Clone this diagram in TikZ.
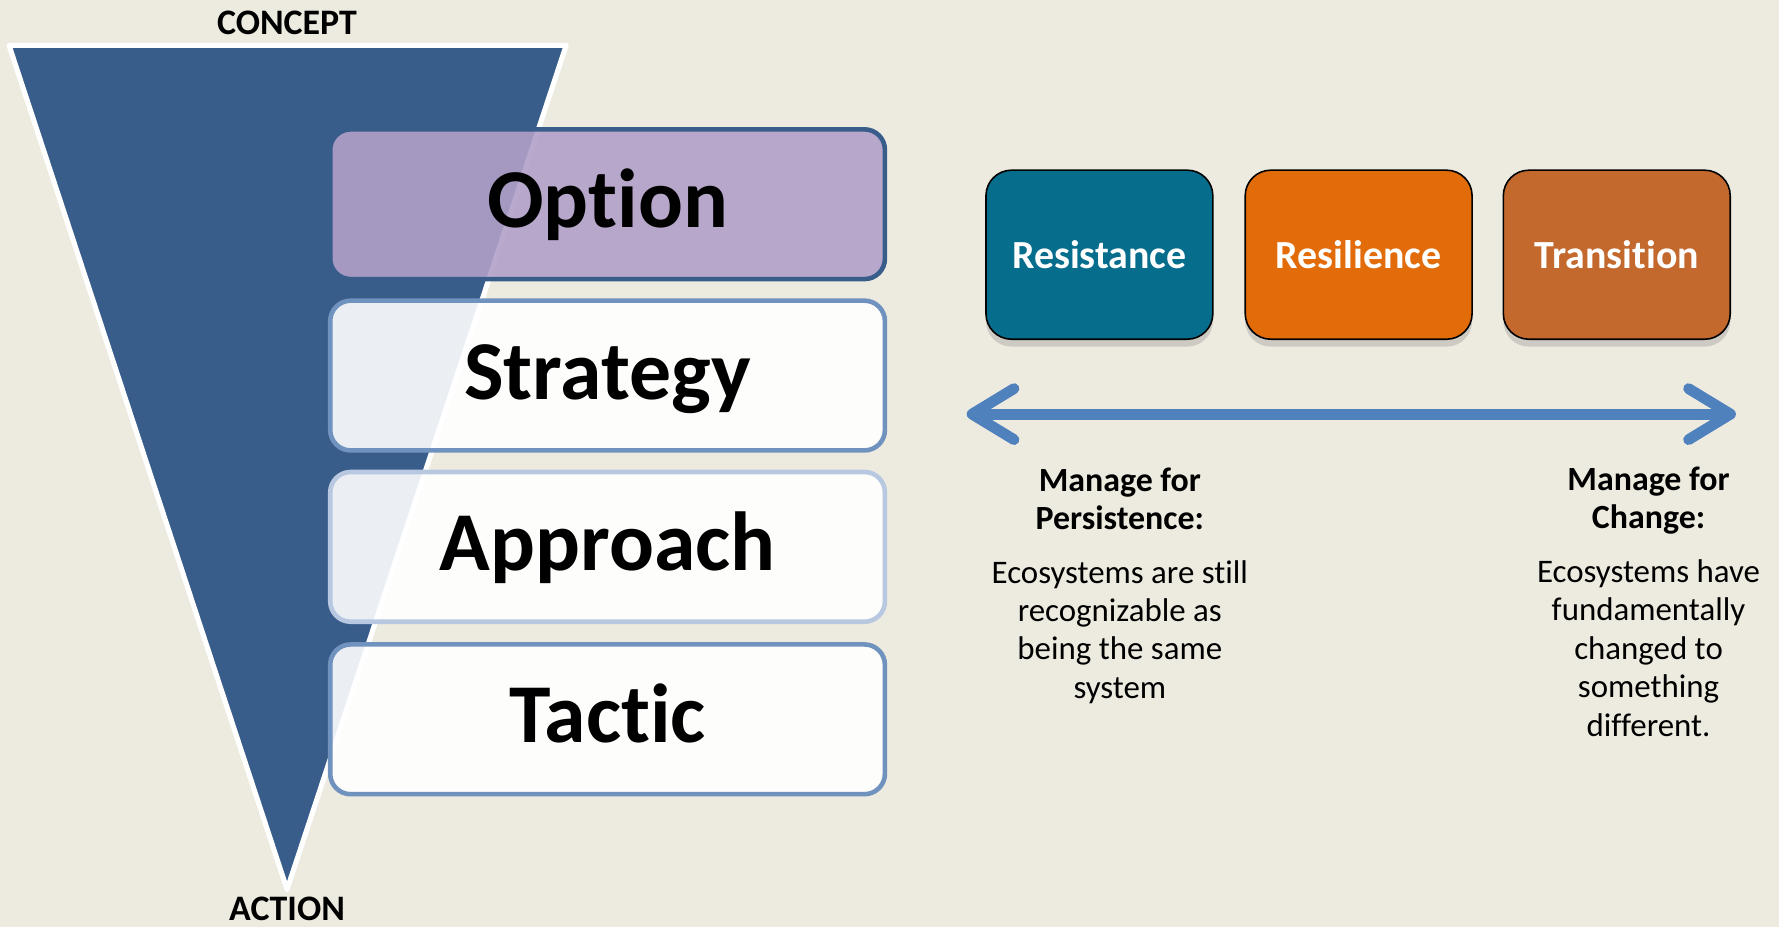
\documentclass[tikz,border=0pt]{standalone}
\usepackage{fontspec}
\setmainfont{Carlito}[Ligatures=NoCommon]
\usetikzlibrary{arrows.meta,shadows}

\definecolor{bgbeige}{RGB}{237,235,224}
\definecolor{funnelblue}{RGB}{56,93,138}
\definecolor{optpurple}{RGB}{178,160,200}
\definecolor{edgemid}{RGB}{112,146,190}
\definecolor{edgelight}{RGB}{185,200,225}
\definecolor{resistteal}{RGB}{6,110,140}
\definecolor{resilorange}{RGB}{227,108,10}
\definecolor{transbrown}{RGB}{196,105,45}
\definecolor{arrowblue}{RGB}{79,129,189}

\begin{document}
\begin{tikzpicture}[x=0.02cm, y=-0.02cm,
    % Box styles (levels on the left, scenarios on the right)
    level/.style={draw=#1, line width=2.3pt, rounded corners=3.6mm, fill=white, fill opacity=0.9, text opacity=1, minimum width=9.78cm, minimum height=2.64cm, inner sep=0pt, text height=27pt, text depth=3.4pt, font=\bfseries\fontsize{42}{50}\selectfont},
    scen/.style={fill=#1, draw=black, line width=0.8pt, text=white, rounded corners=4.5mm, minimum width=4cm, minimum height=2.98cm, inner sep=0pt, font=\bfseries\fontsize{20}{24}\selectfont, drop shadow={shadow xshift=0pt, shadow yshift=-1.3mm, opacity=0.3}},
    endlabel/.style={font=\bfseries\fontsize{18}{22}\selectfont, inner sep=0pt},
    head/.style={align=center, font=\bfseries\fontsize{17}{19}\selectfont},
    body/.style={align=center, font=\fontsize{16.5}{19.3}\selectfont},
    funnel/.style={fill=funnelblue, draw=white, line width=0.09cm, line join=round},
    scalearrow/.style={draw=arrowblue, line width=0.19cm, line cap=round, {Straight Barb[length=0.74cm, width=0.9cm, line cap=round, line join=round]}-{Straight Barb[length=0.74cm, width=0.9cm, line cap=round, line join=round]}}
]

% ---------------------------------------------------------
% 1. BACKGROUND AND FUNNEL
% ---------------------------------------------------------
\fill[bgbeige] (0,0) rectangle (1568,817);
\useasboundingbox (0,0) rectangle (1568,817);

\draw[funnel] (8,40) -- (499,40) -- (253,784) -- cycle;

\node[endlabel] (concept) at (253,20) {CONCEPT};
\node[endlabel] (action) at (253,801) {ACTION};

% ---------------------------------------------------------
% 2. LEVEL BOXES
% ---------------------------------------------------------
\node[level=funnelblue, fill=optpurple] (option) at (535.5,180) {Option};
\node[level=edgemid] (strategy) at (535.5,331) {Strategy};
\node[level=edgelight] (approach) at (535.5,482) {Approach};
\node[level=edgemid] (tactic) at (535.5,634) {Tactic};

% ---------------------------------------------------------
% 3. SCENARIO BOXES AND SCALE
% ---------------------------------------------------------
\node[scen=resistteal] (resist) at (969,224.5) {Resistance};
\node[scen=resilorange] (resil) at (1197.5,224.5) {Resilience};
\node[scen=transbrown] (trans) at (1425,224.5) {Transition};

\coordinate (persistend) at (852,365);
\coordinate (changeend) at (1530,365);
\draw[scalearrow] (persistend) -- (changeend);

% ---------------------------------------------------------
% 4. DESCRIPTIONS
% ---------------------------------------------------------
\node[head] (persisthead) at (987,440) {Manage for\\Persistence:};
\node[body] (persistbody) at (987,557) {Ecosystems are still\\recognizable as\\being the same\\system};

\node[head] (changehead) at (1453,441) {Manage for\\Change:};
\node[body] (changebody) at (1453,571) {Ecosystems have\\fundamentally\\changed to\\something\\different.};

\end{tikzpicture}
\end{document}
